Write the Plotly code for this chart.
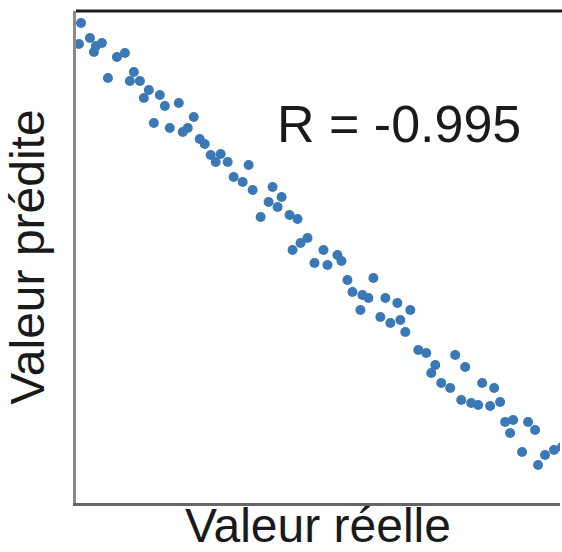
import plotly.graph_objects as go

# Real vs predicted values (arbitrary units, no tick marks shown)
valeur_reelle = [
    1.0, 0.6, 2.8, 4.0, 5.2, 3.6, 8.2, 9.8, 6.4, 11.6,
    10.8, 12.8, 14.6, 13.6, 16.8, 17.8, 20.6, 15.6, 23.6, 18.8,
    21.4, 22.4, 24.8, 25.8, 27.0, 29.0, 28.0, 30.4, 34.6, 31.6,
    33.4, 35.4, 39.4, 41.2, 38.6, 40.4, 37.0, 42.8, 44.4, 46.4,
    45.0, 43.4, 49.6, 52.4, 47.8, 50.4, 53.2, 54.4, 59.6, 55.4,
    57.4, 58.6, 57.0, 62.0, 64.4, 67.0, 61.0, 63.0, 65.0, 66.0,
    68.6, 70.2, 76.0, 78.0, 72.0, 71.2, 73.2, 75.0, 81.4, 83.8,
    77.2, 79.2, 80.6, 83.0, 85.0, 86.0, 87.6, 87.0, 90.6, 92.0,
    89.4, 92.6, 94.0, 95.8, 97.4,
]
valeur_predite = [
    96.0, 91.8, 93.0, 91.4, 92.0, 90.2, 89.2, 90.0, 85.0, 86.2,
    84.4, 84.4, 82.6, 81.0, 81.6, 79.4, 80.0, 76.0, 77.2, 75.0,
    74.2, 75.0, 72.8, 71.8, 69.6, 69.8, 68.2, 68.2, 67.6, 65.2,
    64.2, 62.6, 63.2, 61.2, 60.2, 59.2, 57.2, 57.6, 56.8, 53.0,
    52.0, 50.6, 50.6, 49.6, 48.0, 47.6, 48.4, 44.6, 45.0, 42.2,
    41.6, 41.0, 38.6, 41.0, 40.0, 38.6, 37.2, 36.0, 36.6, 34.2,
    30.6, 30.0, 29.6, 27.2, 27.6, 26.0, 24.0, 23.0, 24.0, 23.0,
    20.6, 20.0, 19.6, 19.4, 20.2, 16.2, 16.6, 14.0, 16.2, 14.6,
    10.2, 7.6, 9.6, 10.6, 11.2,
]
coef_r = "-0.995"

FONT = "Liberation Sans, Arial, sans-serif"
POINT_COLOR = "#3a79b5"

fig = go.Figure()
fig.add_trace(go.Scatter(
    x=valeur_reelle,
    y=valeur_predite,
    mode="markers",
    marker=dict(size=10, color=POINT_COLOR, line=dict(width=0)),
    cliponaxis=True,
    showlegend=False,
))

# correlation label inside the plot area
fig.add_annotation(
    x=64.7, y=75.9, xref="x", yref="y",
    text=f"R = {coef_r}",
    showarrow=False,
    xanchor="center", yanchor="middle",
    font=dict(family=FONT, size=52, color="#1a1a1a"),
)

# dark top border of the frame
fig.add_shape(
    type="line", xref="paper", yref="paper",
    x0=0, x1=1.01, y0=1, y1=1,
    line=dict(color="#1c1c1c", width=3),
)

fig.update_layout(
    width=562, height=552,
    margin=dict(l=76, r=2, t=11, b=49),
    paper_bgcolor="white",
    plot_bgcolor="white",
    font=dict(family=FONT, color="#1a1a1a"),
    xaxis=dict(
        range=[0, 97], showgrid=False, zeroline=False,
        showticklabels=False, ticks="",
        showline=True, linecolor="#666666", linewidth=3,
        title=dict(text="Valeur réelle", font=dict(size=48, family=FONT, color="#1a1a1a"), standoff=4),
    ),
    yaxis=dict(
        range=[0, 98.4], showgrid=False, zeroline=False,
        showticklabels=False, ticks="",
        showline=True, linecolor="#8a8a8a", linewidth=3,
        title=dict(text="Valeur prédite", font=dict(size=48, family=FONT, color="#1a1a1a"), standoff=14),
    ),
)

fig.write_html("out.html")
